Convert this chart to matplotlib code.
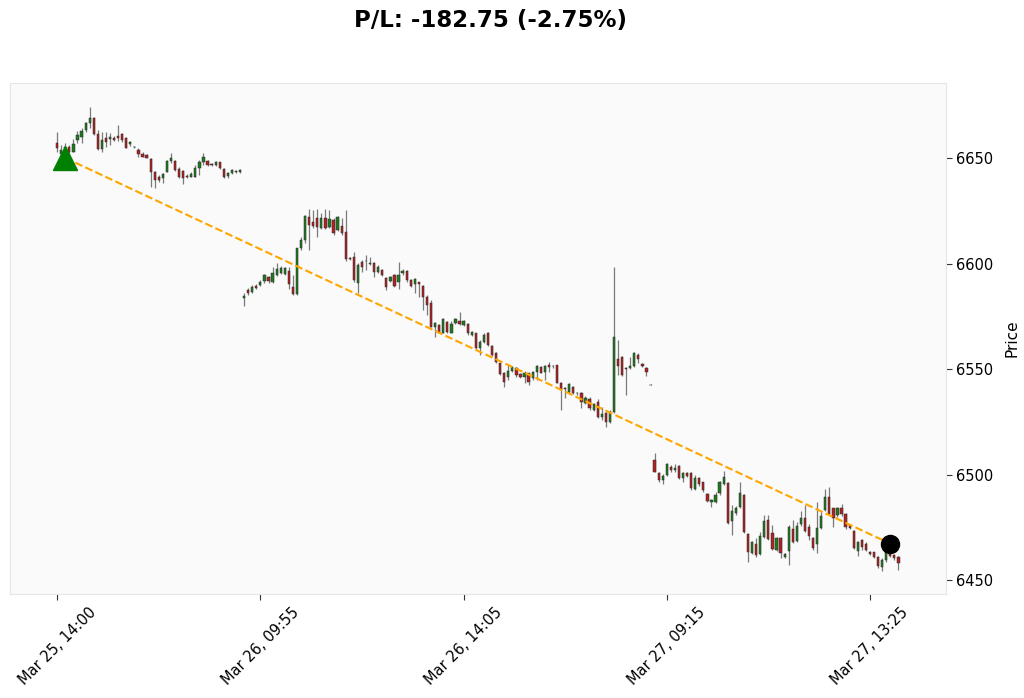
import numpy as np
from matplotlib import pyplot as plt


# 5-minute bars (bar index = position on x axis)
opens = [6657.3, 6652.0, 6653.0, 6655.0, 6653.0, 6658.3, 6660.1, 6663.3, 6666.4, 6669.1,
         6661.2, 6654.1, 6659.3, 6659.0, 6659.5, 6660.3, 6661.5, 6659.5, 6656.5, 6655.0,
         6654.0, 6652.0, 6651.3, 6649.4, 6643.5, 6641.0, 6640.4, 6643.5, 6648.6, 6648.6,
         6644.8, 6643.8, 6641.5, 6641.2, 6641.2, 6645.4, 6648.3, 6648.6, 6647.0, 6646.7,
         6648.0, 6645.0, 6641.5, 6642.7, 6643.3, 6643.2,
         6583.8, 6587.4, 6586.6, 6589.3, 6589.8, 6591.9, 6593.4, 6591.4, 6594.5, 6595.7,
         6595.0, 6596.4, 6588.7, 6585.5, 6607.5, 6611.1, 6622.2, 6619.5, 6621.4, 6616.7,
         6621.4, 6617.5, 6620.6, 6615.9, 6617.8, 6615.1, 6602.5, 6603.2, 6590.6, 6600.9,
         6601.0, 6599.6, 6600.4, 6596.1, 6596.9, 6593.0, 6591.9, 6594.5, 6591.4, 6595.3,
         6596.6, 6592.2, 6590.3, 6591.0, 6589.3, 6584.3, 6581.1, 6570.1, 6570.9, 6567.2,
         6572.4, 6567.2, 6572.0, 6572.9, 6570.9, 6571.3, 6566.1, 6566.9, 6559.8, 6562.9,
         6566.9, 6560.9, 6557.7, 6552.7, 6548.3, 6546.1, 6549.2, 6550.3, 6547.6, 6546.1,
         6547.9, 6545.6, 6548.7, 6551.1, 6548.7, 6551.9, 6551.2, 6551.9, 6543.5, 6541.0,
         6539.3, 6541.6, 6538.8, 6538.8, 6533.7, 6535.6, 6530.6, 6534.5, 6527.4, 6529.0,
         6525.0, 6529.8, 6554.6, 6555.8, 6550.5, 6550.3, 6551.4, 6556.6, 6552.4, 6550.3,
         6542.5,
         6506.9, 6500.6, 6497.4, 6499.8, 6503.7, 6502.2, 6504.2, 6498.5, 6500.6, 6500.6,
         6493.1, 6498.5, 6496.3, 6490.6, 6486.8, 6487.1, 6491.1, 6495.4, 6495.8, 6478.0,
         6481.6, 6484.8, 6490.3, 6471.7, 6462.6, 6466.9, 6462.2, 6470.6, 6478.4, 6472.1,
         6464.2, 6470.1, 6461.1, 6463.8, 6474.2, 6468.5, 6476.4, 6479.6, 6475.3, 6469.8,
         6466.9, 6474.5, 6483.2, 6489.5, 6484.0, 6480.8, 6484.3, 6481.2, 6476.1, 6473.3,
         6463.8, 6469.0, 6466.9, 6463.3, 6463.1, 6461.1, 6456.3, 6459.5, 6463.8, 6461.9,
         6461.1]
highs = [6662.5, 6656.0, 6657.0, 6656.0, 6659.0, 6662.8, 6664.1, 6667.2, 6674.3, 6669.3,
         6663.3, 6662.5, 6662.5, 6661.8, 6660.5, 6665.6, 6662.0, 6660.0, 6658.2, 6655.8,
         6654.5, 6652.7, 6651.8, 6649.9, 6643.8, 6641.8, 6642.8, 6649.0, 6652.5, 6649.0,
         6645.9, 6644.3, 6642.3, 6643.2, 6646.7, 6649.2, 6652.5, 6649.0, 6647.5, 6648.8,
         6648.3, 6645.4, 6643.3, 6644.8, 6644.2, 6644.8,
         6585.9, 6588.2, 6589.8, 6590.3, 6592.2, 6595.0, 6594.1, 6598.5, 6600.4, 6598.8,
         6598.5, 6598.5, 6594.5, 6607.5, 6612.7, 6623.0, 6625.7, 6625.4, 6625.7, 6623.8,
         6625.7, 6625.4, 6621.4, 6622.5, 6621.4, 6625.4, 6603.2, 6605.6, 6600.1, 6601.7,
         6604.0, 6603.2, 6600.9, 6599.3, 6597.2, 6593.8, 6594.1, 6595.0, 6600.9, 6597.2,
         6596.9, 6592.5, 6593.0, 6591.4, 6589.8, 6585.1, 6582.7, 6572.4, 6571.3, 6574.0,
         6572.9, 6572.9, 6574.0, 6577.2, 6573.4, 6571.6, 6568.2, 6567.2, 6563.7, 6566.9,
         6567.7, 6561.4, 6558.2, 6553.0, 6548.7, 6551.9, 6551.4, 6550.8, 6547.9, 6549.2,
         6548.3, 6549.2, 6551.9, 6551.4, 6551.9, 6553.5, 6551.9, 6551.9, 6544.0, 6541.6,
         6543.5, 6541.9, 6539.3, 6539.3, 6537.2, 6536.9, 6533.7, 6535.6, 6532.1, 6529.8,
         6530.6, 6598.5, 6563.7, 6556.1, 6550.8, 6555.5, 6558.2, 6557.4, 6553.0, 6550.8,
         6542.7,
         6510.0, 6501.1, 6500.1, 6505.3, 6504.5, 6504.8, 6504.5, 6501.1, 6501.1, 6501.1,
         6499.8, 6499.0, 6496.6, 6491.1, 6488.4, 6491.9, 6496.9, 6501.7, 6496.3, 6485.6,
         6485.2, 6496.6, 6490.6, 6472.1, 6468.5, 6469.8, 6472.6, 6480.8, 6480.8, 6476.0,
         6470.6, 6470.6, 6462.7, 6476.1, 6478.4, 6477.7, 6482.7, 6485.6, 6476.4, 6470.6,
         6487.2, 6482.7, 6493.2, 6494.3, 6484.3, 6484.8, 6485.9, 6481.6, 6476.4, 6473.7,
         6468.5, 6469.5, 6468.2, 6463.6, 6463.4, 6461.6, 6460.3, 6466.6, 6464.2, 6462.2,
         6461.6]
lows = [6653.0, 6650.0, 6649.0, 6650.0, 6652.6, 6657.0, 6657.0, 6662.5, 6664.1, 6660.9,
        6653.9, 6653.0, 6655.0, 6656.0, 6658.0, 6658.0, 6657.7, 6654.5, 6655.8, 6654.5,
        6650.6, 6650.6, 6650.0, 6636.4, 6635.6, 6638.5, 6638.0, 6643.2, 6647.5, 6643.9,
        6640.4, 6637.9, 6640.4, 6640.9, 6640.8, 6642.0, 6646.7, 6646.4, 6646.2, 6646.3,
        6645.0, 6640.4, 6640.6, 6642.4, 6643.0, 6642.8,
        6579.9, 6585.1, 6586.2, 6587.7, 6589.3, 6590.9, 6590.6, 6590.9, 6594.1, 6595.0,
        6594.5, 6587.7, 6585.1, 6585.1, 6606.4, 6609.6, 6606.4, 6616.7, 6612.7, 6616.2,
        6616.2, 6616.7, 6613.5, 6615.6, 6613.5, 6601.3, 6601.6, 6591.4, 6585.9, 6596.1,
        6597.0, 6599.3, 6593.7, 6595.7, 6594.1, 6587.4, 6591.4, 6588.7, 6587.8, 6594.5,
        6591.4, 6589.0, 6585.9, 6584.3, 6578.0, 6575.6, 6569.8, 6565.3, 6566.9, 6566.9,
        6566.9, 6566.9, 6571.3, 6570.9, 6570.5, 6566.1, 6565.6, 6559.3, 6556.6, 6562.2,
        6560.9, 6556.2, 6552.7, 6547.1, 6541.6, 6544.8, 6548.7, 6546.4, 6545.6, 6543.2,
        6542.4, 6544.8, 6544.8, 6547.9, 6544.8, 6548.7, 6550.3, 6543.2, 6530.6, 6536.1,
        6538.8, 6538.2, 6537.7, 6531.4, 6533.4, 6530.6, 6530.3, 6526.6, 6525.8, 6522.7,
        6524.6, 6529.3, 6547.2, 6546.7, 6537.7, 6549.8, 6551.1, 6552.7, 6551.1, 6546.7,
        6542.2,
        6501.0, 6496.3, 6495.4, 6499.5, 6501.4, 6501.4, 6497.9, 6496.3, 6499.0, 6492.7,
        6492.7, 6494.7, 6491.9, 6487.1, 6484.8, 6486.3, 6490.3, 6495.0, 6476.4, 6471.3,
        6480.8, 6484.3, 6472.1, 6458.7, 6462.2, 6461.1, 6461.9, 6469.8, 6469.0, 6464.2,
        6463.8, 6460.3, 6460.6, 6457.1, 6467.4, 6468.2, 6475.8, 6472.9, 6469.0, 6464.2,
        6462.7, 6474.2, 6482.7, 6480.8, 6475.3, 6480.0, 6480.5, 6474.2, 6474.2, 6464.7,
        6461.6, 6464.2, 6463.8, 6461.9, 6460.6, 6455.8, 6454.3, 6458.7, 6461.1, 6459.5,
        6454.8]
closes = [6654.9, 6654.0, 6655.0, 6653.0, 6656.5, 6661.0, 6662.8, 6666.4, 6669.1, 6661.2,
          6654.1, 6658.5, 6657.7, 6660.0, 6658.5, 6659.5, 6658.5, 6654.9, 6657.8, 6655.2,
          6651.7, 6650.6, 6650.2, 6643.5, 6639.6, 6639.6, 6642.3, 6648.6, 6649.8, 6644.3,
          6641.2, 6640.4, 6641.0, 6642.3, 6645.4, 6648.3, 6650.6, 6646.7, 6646.6, 6648.3,
          6645.4, 6640.9, 6643.0, 6644.3, 6643.8, 6644.3,
          6584.8, 6585.9, 6588.7, 6588.2, 6591.4, 6594.5, 6591.9, 6595.7, 6597.4, 6597.7,
          6597.7, 6590.1, 6585.5, 6607.5, 6611.1, 6622.5, 6618.3, 6617.8, 6617.5, 6621.4,
          6616.7, 6620.9, 6614.3, 6622.2, 6614.3, 6602.0, 6602.1, 6592.2, 6599.3, 6598.5,
          6601.2, 6600.4, 6596.1, 6598.2, 6594.5, 6589.0, 6593.7, 6589.3, 6594.5, 6596.6,
          6592.2, 6589.3, 6592.5, 6590.5, 6584.3, 6580.3, 6570.1, 6572.0, 6567.2, 6573.5,
          6567.7, 6571.3, 6573.7, 6571.3, 6572.9, 6566.9, 6567.7, 6559.8, 6562.9, 6566.1,
          6561.4, 6556.6, 6553.5, 6547.6, 6544.0, 6549.2, 6550.8, 6547.1, 6546.4, 6548.3,
          6544.0, 6548.7, 6551.4, 6548.3, 6551.4, 6551.1, 6551.5, 6543.5, 6540.0, 6540.5,
          6542.9, 6538.5, 6538.8, 6534.5, 6536.1, 6531.4, 6533.4, 6527.4, 6528.6, 6525.0,
          6529.7, 6565.3, 6551.4, 6547.2, 6550.2, 6551.4, 6557.7, 6554.6, 6551.4, 6548.7,
          6542.4,
          6501.4, 6497.4, 6499.5, 6504.8, 6502.2, 6503.3, 6498.2, 6500.6, 6499.5, 6493.5,
          6498.5, 6495.4, 6492.7, 6487.5, 6487.9, 6490.3, 6496.6, 6499.0, 6476.9, 6482.7,
          6484.3, 6491.1, 6472.6, 6463.1, 6468.2, 6461.9, 6471.0, 6478.0, 6469.4, 6464.7,
          6470.1, 6462.6, 6462.2, 6475.3, 6468.2, 6475.8, 6479.6, 6473.3, 6471.0, 6465.4,
          6474.5, 6480.5, 6489.5, 6481.2, 6479.6, 6484.3, 6481.2, 6475.3, 6474.5, 6465.0,
          6468.2, 6465.8, 6464.2, 6462.5, 6461.1, 6456.8, 6459.5, 6463.8, 6461.6, 6460.3,
          6457.9]

tick_labels = ['Mar 25, 14:00', 'Mar 26, 09:55', 'Mar 26, 14:05', 'Mar 27, 09:15', 'Mar 27, 13:25']
tick_every = 50

entry_idx, entry_price = 2, 6650.00
exit_idx, exit_price = 205, 6467.25

UP = '#1f7a1f'
DOWN = '#b22222'


def draw_candles(ax, o, h, l, c):
  o, h, l, c = map(np.asarray, (o, h, l, c))
  x = np.arange(len(o))
  ax.vlines(x, l, h, color='#7a7a7a', linewidth=0.9, zorder=1)
  up = c >= o
  colors = np.where(up, UP, DOWN)
  ax.bar(x, np.abs(c - o), bottom=np.minimum(o, c), width=0.55,
         color=colors, edgecolor='#2a2a2a', linewidth=0.35, zorder=2)
  return x


fig = plt.figure(figsize=(10.24, 6.98), dpi=100)
ax = fig.add_axes([0.0098, 0.149, 0.9140, 0.732])
ax.set_facecolor('#fafafa')

x = draw_candles(ax, opens, highs, lows, closes)

ax.plot([entry_idx, exit_idx], [entry_price, exit_price], color='orange',
        linestyle='--', linewidth=1.5, zorder=3)
ax.plot(entry_idx, entry_price, marker='^', color='green', markersize=17, zorder=4)
ax.plot(exit_idx, exit_price, marker='o', color='black', markersize=13, zorder=4)

pnl = exit_price - entry_price
pct = pnl / entry_price * 100
fig.text(0.479, 0.971, f'P/L: {pnl:.2f} ({pct:.2f}%)', ha='center', va='center',
         fontsize=16.5, fontweight='bold')

ax.set_xlim(-11.6, 218.7)
ax.set_ylim(6443.4, 6685.5)

ticks = np.arange(0, len(x), tick_every)[:len(tick_labels)]
ax.set_xticks(ticks)
ax.set_xticklabels(tick_labels, rotation=45, ha='center', fontsize=10.5)

ax.yaxis.tick_right()
ax.yaxis.set_label_position('right')
ax.set_yticks([6450, 6500, 6550, 6600, 6650])
ax.tick_params(axis='y', labelsize=10.5, length=4, color='#333333')
ax.tick_params(axis='x', length=4, color='#333333')
ax.set_ylabel('Price', fontsize=11, labelpad=8)

for s in ax.spines.values():
  s.set_color('#e6e6e6')

fig.savefig('out.png', dpi=100)
